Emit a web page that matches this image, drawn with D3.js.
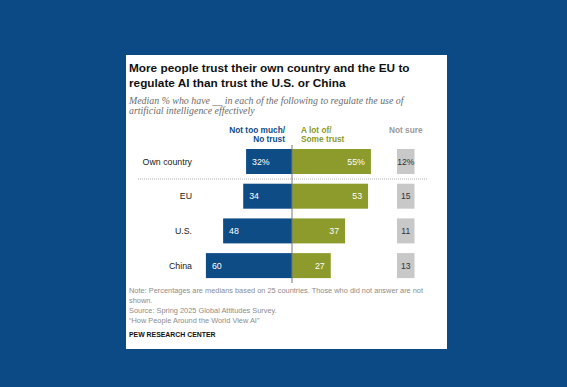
<!DOCTYPE html>
<html>
<head>
<meta charset="utf-8">
<script src="https://cdn.jsdelivr.net/npm/d3@7"></script>
<style>
  html, body { margin: 0; padding: 0; background: #0b4a84; }
  svg { display: block; }
  .sans { font-family: "Liberation Sans", Arial, sans-serif; }
</style>
</head>
<body>
<div id="chart"></div>
<script>
// Data
const categories = ["Own country", "EU", "U.S.", "China"];
const noTrust = [32, 34, 48, 60];
const someTrust = [55, 53, 37, 27];
const notSure = [12, 15, 11, 13];

const titleLines = [
    "More people trust their own country and the EU to",
    "regulate AI than trust the U.S. or China"
];
const subtitleLines = [
    "Median % who have __ in each of the following to regulate the use of",
    "artificial intelligence effectively"
];
const noteLines = [
    "Note: Percentages are medians based on 25 countries. Those who did not answer are not",
    "shown.",
    "Source: Spring 2025 Global Attitudes Survey.",
    "\u201CHow People Around the World View AI\u201D"
];

const W = 567, H = 387;
const blue = "#0e4c86";
const green = "#8c9b2c";
const grey = "#c8c8c8";

const svg = d3.select("#chart").append("svg")
    .attr("width", W)
    .attr("height", H)
    .attr("class", "sans");

// background and card
svg.append("rect").attr("width", W).attr("height", H).attr("fill", "#0b4a84");
svg.append("rect")
    .attr("x", 126).attr("y", 55)
    .attr("width", 321).attr("height", 294)
    .attr("fill", "#fff");

// title
svg.append("g").selectAll("text")
    .data(titleLines)
    .join("text")
    .attr("x", 129)
    .attr("y", (d, i) => 72.3 + i * 14.5)
    .attr("font-size", 11.8)
    .attr("font-weight", 700)
    .attr("fill", "#111")
    .text(d => d);

// subtitle
svg.append("g").selectAll("text")
    .data(subtitleLines)
    .join("text")
    .attr("x", 129)
    .attr("y", (d, i) => 104.3 + i * 10)
    .attr("font-family", "'Liberation Serif', Georgia, serif")
    .attr("font-style", "italic")
    .attr("font-size", 9.9)
    .attr("fill", "#6b6b6b")
    .text(d => d);

// scales
const center = 292;
const x = d3.scaleLinear().domain([0, 100]).range([0, 143.5]);
const y = d3.scaleBand()
    .domain(categories)
    .range([149, 149 + 3 * 34.7 + 25])
    .paddingInner(0.28);

const boxX = 397, boxW = 17.5;

// column headers
const hdr = svg.append("g").attr("font-size", 8.3).attr("font-weight", 700);
hdr.selectAll("text.nt")
    .data(["Not too much/", "No trust"])
    .join("text")
    .attr("class", "nt")
    .attr("x", 285)
    .attr("y", (d, i) => 132.5 + i * 9)
    .attr("text-anchor", "end")
    .attr("fill", blue)
    .text(d => d);
hdr.selectAll("text.st")
    .data(["A lot of/", "Some trust"])
    .join("text")
    .attr("class", "st")
    .attr("x", 301)
    .attr("y", (d, i) => 132.5 + i * 9)
    .attr("fill", "#8a992a")
    .text(d => d);
hdr.append("text")
    .attr("x", boxX + boxW / 2)
    .attr("y", 132.5)
    .attr("text-anchor", "middle")
    .attr("fill", "#9a9a9a")
    .text("Not sure");

// dotted separator under first row
svg.append("line")
    .attr("x1", 138).attr("x2", 428)
    .attr("y1", 179).attr("y2", 179)
    .attr("stroke", "#999")
    .attr("stroke-width", 0.8)
    .attr("stroke-dasharray", "1,1");

const rows = svg.append("g").selectAll("g")
    .data(categories)
    .join("g")
    .attr("transform", d => `translate(0,${y(d)})`);

const bw = y.bandwidth();
const pct = (v, i) => i === 0 ? v + "%" : v;

// category labels
rows.append("text")
    .attr("x", 192)
    .attr("y", bw / 2)
    .attr("dy", "0.35em")
    .attr("text-anchor", "end")
    .attr("font-size", 8.8)
    .attr("fill", "#222")
    .text(d => d);

// no trust bars
rows.append("rect")
    .attr("x", (d, i) => center - x(noTrust[i]))
    .attr("width", (d, i) => x(noTrust[i]))
    .attr("height", bw)
    .attr("fill", blue);
rows.append("text")
    .attr("x", (d, i) => center - x(noTrust[i]) + 6)
    .attr("y", bw / 2)
    .attr("dy", "0.35em")
    .attr("font-size", 8.8)
    .attr("fill", "#fff")
    .text((d, i) => pct(noTrust[i], i));

// some trust bars
rows.append("rect")
    .attr("x", center)
    .attr("width", (d, i) => x(someTrust[i]))
    .attr("height", bw)
    .attr("fill", green);
rows.append("text")
    .attr("x", (d, i) => center + x(someTrust[i]) - 6)
    .attr("y", bw / 2)
    .attr("dy", "0.35em")
    .attr("text-anchor", "end")
    .attr("font-size", 8.8)
    .attr("fill", "#fff")
    .text((d, i) => pct(someTrust[i], i));

// not sure boxes
rows.append("rect")
    .attr("x", boxX)
    .attr("width", boxW)
    .attr("height", bw)
    .attr("fill", grey);
rows.append("text")
    .attr("x", boxX + boxW / 2)
    .attr("y", bw / 2)
    .attr("dy", "0.35em")
    .attr("text-anchor", "middle")
    .attr("font-size", 8.6)
    .attr("fill", "#333")
    .text((d, i) => pct(notSure[i], i));

// center axis line
svg.append("line")
    .attr("x1", center).attr("x2", center)
    .attr("y1", 145).attr("y2", 283)
    .attr("stroke", "#777")
    .attr("stroke-width", 1);

// notes
svg.append("g").selectAll("text")
    .data(noteLines)
    .join("text")
    .attr("x", 129)
    .attr("y", (d, i) => 293.3 + i * 9.8)
    .attr("font-size", 7.4)
    .attr("fill", "#8c8c8c")
    .text(d => d);

svg.append("text")
    .attr("x", 129)
    .attr("y", 336.7)
    .attr("font-size", 6.9)
    .attr("font-weight", 700)
    .attr("fill", "#111")
    .text("PEW RESEARCH CENTER");
</script>
</body>
</html>
